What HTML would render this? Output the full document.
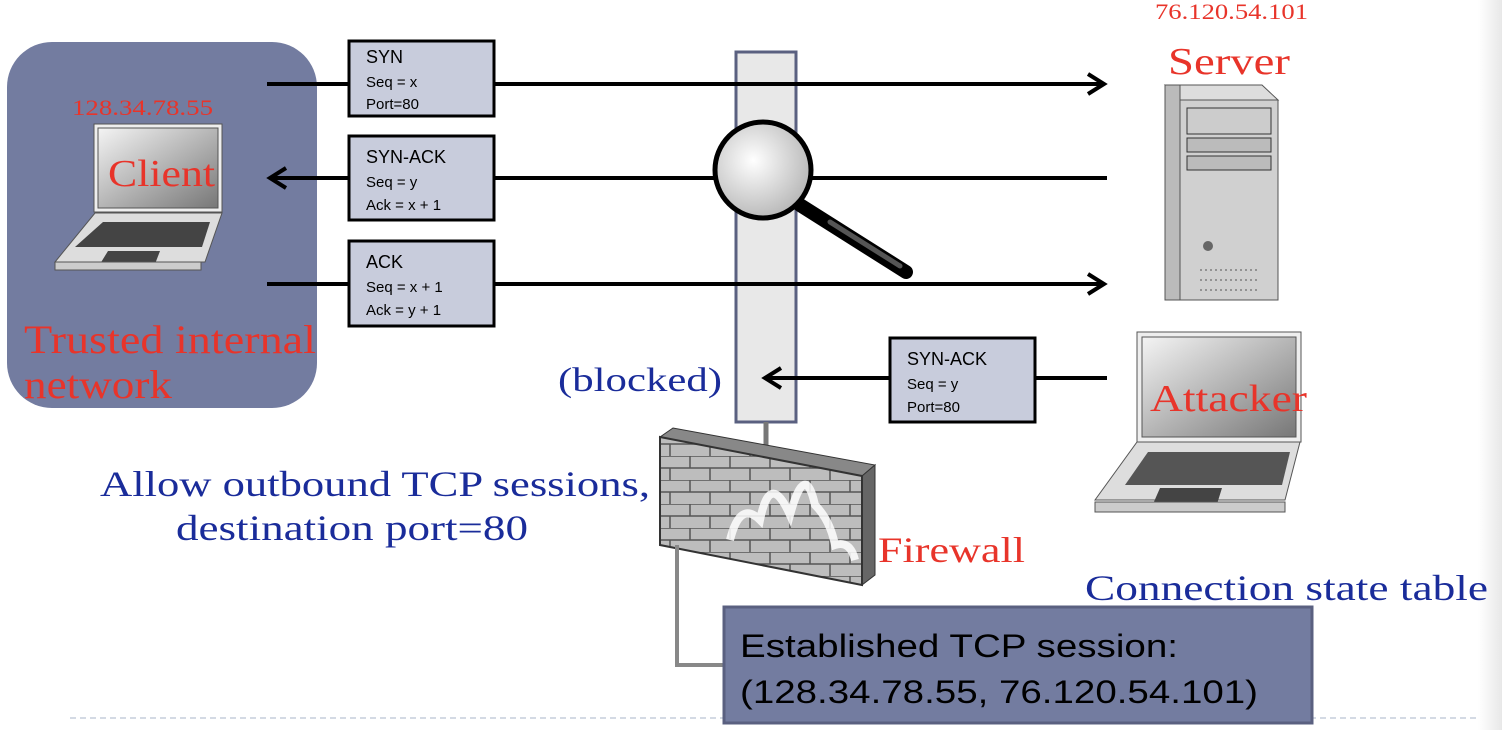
<!DOCTYPE html>
<html><head><meta charset="utf-8"><style>
body{margin:0;background:#fff;}
.r{font-family:"Liberation Serif",serif;}
.s text,text.s{font-family:"Liberation Sans",sans-serif;}
</style></head><body>
<svg width="1502" height="730" viewBox="0 0 1502 730" xmlns="http://www.w3.org/2000/svg">
<defs>
<linearGradient id="scr" x1="0" y1="0" x2="1" y2="1"><stop offset="0" stop-color="#f4f4f4"/><stop offset="1" stop-color="#777"/></linearGradient>
<linearGradient id="edge" x1="0" x2="1"><stop offset="0" stop-color="#fff"/><stop offset="1" stop-color="#e8e8e8"/></linearGradient>
<radialGradient id="lens" cx="0.4" cy="0.4" r="0.6"><stop offset="0" stop-color="#fff"/><stop offset="1" stop-color="#bbb"/></radialGradient>
<pattern id="brick" width="40" height="24" patternUnits="userSpaceOnUse"><rect width="40" height="24" fill="#bdbdbd"/><path d="M0 0H40M0 12H40M10 0V12M30 12V24" stroke="#555" stroke-width="1.5"/></pattern>
</defs>
<rect x="1478" y="0" width="24" height="730" fill="url(#edge)"/>
<line x1="70" y1="718" x2="1480" y2="718" stroke="#a8b4c8" stroke-dasharray="6,4"/>
<rect x="7" y="42" width="310" height="366" rx="45" fill="#737CA0"/>
<g class="r">
<text x="72" y="115" font-size="22" fill="#e8342a" textLength="141" lengthAdjust="spacingAndGlyphs">128.34.78.55</text>
</g>
<rect x="94" y="124" width="128" height="88" fill="#eee" stroke="#555"/>
<rect x="98" y="128" width="120" height="80" fill="url(#scr)" stroke="#555"/>
<polygon points="95,213 222,213 205,262 55,262" fill="#ddd" stroke="#555"/>
<polygon points="103,222 210,222 202,247 75,247" fill="#444"/>
<polygon points="108,251 160,251 155,264 100,264" fill="#444"/>
<rect x="55" y="262" width="146" height="8" fill="#ccc" stroke="#555"/>
<g class="r">
<text x="108" y="186" font-size="38" fill="#e8342a" textLength="107" lengthAdjust="spacingAndGlyphs">Client</text>
<text x="24" y="353" font-size="40" fill="#e8342a" textLength="292" lengthAdjust="spacingAndGlyphs">Trusted internal</text>
<text x="24" y="398" font-size="40" fill="#e8342a" textLength="148" lengthAdjust="spacingAndGlyphs">network</text>
</g>
<rect x="736" y="52" width="60" height="370" fill="#e8e8e8" stroke="#5a6080" stroke-width="3"/>
<line x1="766" y1="422" x2="766" y2="452" stroke="#777" stroke-width="5"/>
<g stroke="#000" stroke-width="4" fill="none">
<line x1="267" y1="84" x2="1102" y2="84"/><polyline points="1088,74 1104,84 1088,94"/>
<line x1="272" y1="178" x2="1107" y2="178"/><polyline points="286,168 270,178 286,188"/>
<line x1="267" y1="284" x2="1102" y2="284"/><polyline points="1088,274 1104,284 1088,294"/>
<line x1="767" y1="378" x2="1107" y2="378"/><polyline points="781,368 765,378 781,388"/>
</g>
<line x1="800" y1="205" x2="906" y2="272" stroke="#000" stroke-width="14" stroke-linecap="round"/>
<line x1="830" y1="222" x2="900" y2="266" stroke="#555" stroke-width="5" stroke-linecap="round"/>
<circle cx="763" cy="170" r="48" fill="url(#lens)" stroke="#000" stroke-width="5"/>
<g fill="#C8CCDC" stroke="#000" stroke-width="3">
<rect x="349" y="41" width="145" height="75"/><rect x="349" y="136" width="145" height="84"/><rect x="349" y="241" width="145" height="85"/><rect x="890" y="338" width="145" height="84"/>
</g>
<g class="s" font-size="15" fill="#000">
<text x="366" y="63" font-size="18">SYN</text><text x="366" y="87">Seq = x</text><text x="366" y="109">Port=80</text>
<text x="366" y="163" font-size="18">SYN-ACK</text><text x="366" y="187">Seq = y</text><text x="366" y="210">Ack = x + 1</text>
<text x="366" y="268" font-size="18">ACK</text><text x="366" y="292">Seq = x + 1</text><text x="366" y="315">Ack = y + 1</text>
<text x="907" y="365" font-size="18">SYN-ACK</text><text x="907" y="389">Seq = y</text><text x="907" y="412">Port=80</text>
</g>
<g class="r">
<text x="558" y="391" font-size="34" fill="#1a2c9a" textLength="164" lengthAdjust="spacingAndGlyphs">(blocked)</text>
<text x="1155" y="19" font-size="22" fill="#e8342a" textLength="153" lengthAdjust="spacingAndGlyphs">76.120.54.101</text>
<text x="1168" y="74" font-size="38" fill="#e8342a" textLength="122" lengthAdjust="spacingAndGlyphs">Server</text>
</g>
<polygon points="1165,85 1262,85 1278,100 1180,100" fill="#ddd" stroke="#555"/>
<rect x="1180" y="100" width="98" height="200" fill="#d0d0d0" stroke="#555"/>
<rect x="1165" y="85" width="15" height="215" fill="#bbb" stroke="#555"/>
<rect x="1187" y="108" width="84" height="26" fill="#ccc" stroke="#333"/>
<rect x="1187" y="138" width="84" height="14" fill="#bbb" stroke="#333"/>
<rect x="1187" y="156" width="84" height="14" fill="#bbb" stroke="#333"/>
<circle cx="1208" cy="246" r="5" fill="#666"/>
<path d="M1200 270h60M1200 280h60M1200 290h60" stroke="#555" stroke-dasharray="2,3"/>
<rect x="1137" y="332" width="164" height="110" fill="#eee" stroke="#555"/>
<rect x="1142" y="337" width="154" height="100" fill="url(#scr)" stroke="#555"/>
<polygon points="1137,442 1300,442 1285,500 1095,500" fill="#ddd" stroke="#555"/>
<polygon points="1148,452 1290,452 1282,485 1125,485" fill="#555"/>
<polygon points="1160,488 1222,488 1217,504 1153,504" fill="#444"/>
<rect x="1095" y="502" width="190" height="10" fill="#ccc" stroke="#555"/>
<text class="r" x="1150" y="411" font-size="38" fill="#e8342a" textLength="157" lengthAdjust="spacingAndGlyphs">Attacker</text>
<polygon points="660,437 673,428 875,465 862,476" fill="#888" stroke="#333"/>
<polygon points="862,476 875,465 875,575 862,585" fill="#666" stroke="#333"/>
<polygon points="660,437 862,476 862,585 660,545" fill="url(#brick)" stroke="#333" stroke-width="2"/>
<path d="M730 540 Q740 500 760 520 Q770 470 790 515 Q805 460 815 505 Q830 520 835 545 Q850 540 855 560" stroke="#fff" stroke-width="8" fill="none" opacity="0.85"/>
<g class="r">
<text x="878" y="562" font-size="36" fill="#e8342a" textLength="147" lengthAdjust="spacingAndGlyphs">Firewall</text>
<text x="100" y="496" font-size="36" fill="#1a2c9a" textLength="550" lengthAdjust="spacingAndGlyphs">Allow outbound TCP sessions,</text>
<text x="176" y="540" font-size="36" fill="#1a2c9a" textLength="352" lengthAdjust="spacingAndGlyphs">destination port=80</text>
<text x="1085" y="600" font-size="36" fill="#1a2c9a" textLength="403" lengthAdjust="spacingAndGlyphs">Connection state table</text>
</g>
<polyline points="677,545 677,665 724,665" stroke="#888" stroke-width="4" fill="none"/>
<rect x="724" y="607" width="588" height="116" fill="#737CA0" stroke="#5a6080" stroke-width="3"/>
<g class="s">
<text x="740" y="657" font-size="32" fill="#000" textLength="438" lengthAdjust="spacingAndGlyphs">Established TCP session:</text>
<text x="740" y="703" font-size="32" fill="#000" textLength="518" lengthAdjust="spacingAndGlyphs">(128.34.78.55, 76.120.54.101)</text>
</g>
</svg>
</body></html>
